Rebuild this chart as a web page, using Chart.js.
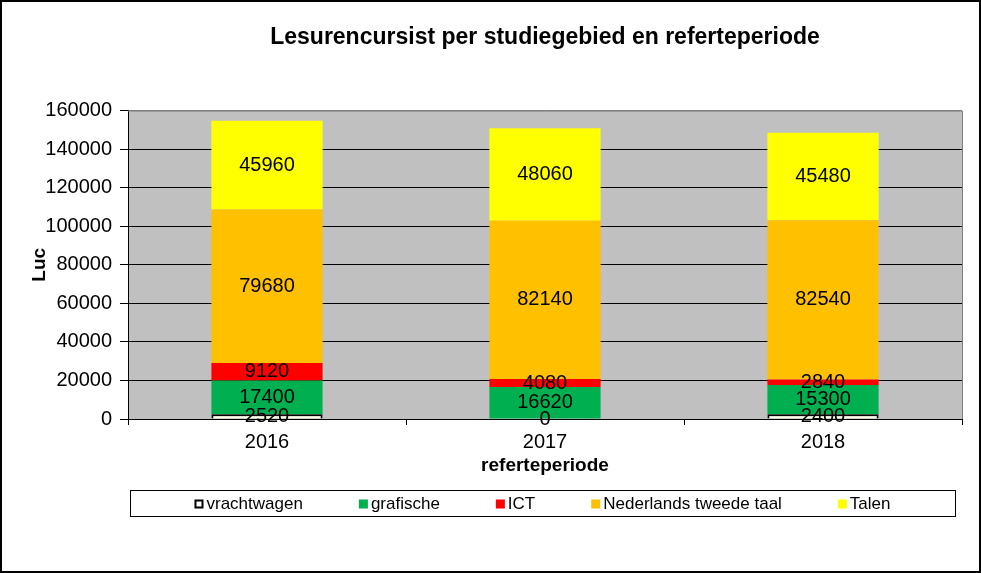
<!DOCTYPE html>
<html>
<head>
<meta charset="utf-8">
<script src="https://cdn.jsdelivr.net/npm/chart.js@4/dist/chart.umd.min.js"></script>
<style>
    html, body { margin: 0; padding: 0; background: #fff; }
</style>
</head>
<body>
<canvas id="chart" width="981" height="573"></canvas>
<script>
const years = ['2016', '2017', '2018'];
const vrachtwagen = [2520, 0, 2400];
const grafische = [17400, 16620, 15300];
const ict = [9120, 4080, 2840];
const nederlands = [79680, 82140, 82540];
const talen = [45960, 48060, 45480];
const yTickValues = [0, 20000, 40000, 60000, 80000, 100000, 120000, 140000, 160000];

const FONT = "'Liberation Sans', Arial, sans-serif";

// grey plot area, plot border and outer frame
const frame = {
    id: 'frame',
    beforeDraw(chart) {
        const { ctx, chartArea: a } = chart;
        ctx.save();
        ctx.fillStyle = '#fff';
        ctx.fillRect(0, 0, chart.width, chart.height);
        ctx.fillStyle = '#c0c0c0';
        ctx.fillRect(a.left, a.top, a.right - a.left, a.bottom - a.top);
        ctx.restore();
    },
    afterDraw(chart) {
        const { ctx, chartArea: a } = chart;
        ctx.save();
        ctx.strokeStyle = '#808080';
        ctx.lineWidth = 1;
        ctx.beginPath();
        ctx.moveTo(a.left, a.top + 0.5);
        ctx.lineTo(a.right + 0.5, a.top + 0.5);
        ctx.lineTo(a.right + 0.5, a.bottom);
        ctx.stroke();
        ctx.strokeStyle = '#000';
        ctx.lineWidth = 2;
        ctx.strokeRect(1, 1, chart.width - 2, chart.height - 2);
        ctx.restore();
    },
};

// value written in the middle of every stacked segment
const segmentLabels = {
    id: 'segmentLabels',
    afterDatasetsDraw(chart) {
        const ctx = chart.ctx;
        ctx.save();
        ctx.font = `20px ${FONT}`;
        ctx.fillStyle = '#000';
        ctx.textAlign = 'center';
        ctx.textBaseline = 'middle';
        chart.data.datasets.forEach((ds, i) => {
            chart.getDatasetMeta(i).data.forEach((bar, j) => {
                ctx.fillText(String(ds.data[j]), bar.x, (bar.y + bar.base) / 2);
            });
        });
        ctx.restore();
    },
};

// boxed legend below the axis title
const boxLegend = {
    id: 'boxLegend',
    afterDraw(chart) {
        const { ctx, chartArea: a } = chart;
        const top = a.bottom + 71;
        const h = 26;
        const left = a.left + 2;
        const right = a.right - 7;
        ctx.save();
        ctx.fillStyle = '#fff';
        ctx.fillRect(left, top, right - left, h);
        ctx.strokeStyle = '#000';
        ctx.lineWidth = 1;
        ctx.strokeRect(left + 0.5, top + 0.5, right - left, h);

        ctx.font = `17px ${FONT}`;
        ctx.textBaseline = 'middle';
        ctx.textAlign = 'left';
        const box = 9, gap = 3, spacing = 56;
        const items = chart.data.datasets.map((ds) => ({
            text: ds.label,
            fill: ds.legendFill || ds.backgroundColor,
            outlined: !!ds.legendFill,
            w: ctx.measureText(ds.label).width,
        }));
        const total = items.reduce((s, it) => s + box + gap + it.w, 0) + spacing * (items.length - 1);
        let x = (left + right) / 2 - total / 2;
        const cy = top + h / 2 + 1;
        items.forEach((it) => {
            ctx.fillStyle = it.fill;
            ctx.fillRect(x, cy - box / 2, box, box);
            if (it.outlined) {
                ctx.strokeStyle = '#000';
                ctx.lineWidth = 2;
                ctx.strokeRect(x + 1, cy - box / 2 + 1, box - 2, box - 2);
            }
            ctx.fillStyle = '#000';
            ctx.fillText(it.text, x + box + gap, cy);
            x += box + gap + it.w + spacing;
        });
        ctx.restore();
    },
};

new Chart(document.getElementById('chart'), {
    type: 'bar',
    data: {
        labels: years,
        datasets: [
            {
                label: 'vrachtwagen',
                data: vrachtwagen,
                backgroundColor: '#ffffe8',
                legendFill: '#fff',
                borderColor: '#000',
                borderWidth: (c) => (c.raw ? 2 : 0),
            },
            { label: 'grafische', data: grafische, backgroundColor: '#00b050' },
            { label: 'ICT', data: ict, backgroundColor: '#ff0000' },
            { label: 'Nederlands tweede taal', data: nederlands, backgroundColor: '#ffc000' },
            { label: 'Talen', data: talen, backgroundColor: '#ffff00' },
        ],
    },
    options: {
        responsive: false,
        animation: false,
        devicePixelRatio: 1,
        layout: { padding: { left: 0, right: 19, top: 0, bottom: 94 } },
        datasets: {
            bar: { categoryPercentage: 1, barPercentage: 0.4 },
        },
        plugins: {
            legend: { display: false },
            tooltip: { enabled: false },
            title: {
                display: true,
                fullSize: false,
                text: 'Lesurencursist per studiegebied en referteperiode',
                color: '#000',
                font: { family: FONT, size: 23, weight: 'bold' },
                padding: { top: 24, bottom: 59 },
            },
        },
        scales: {
            x: {
                stacked: true,
                ticks: { color: '#000', font: { family: FONT, size: 20 }, padding: 5 },
                grid: { offset: true, drawOnChartArea: false, tickLength: 6, color: '#000' },
                border: { color: '#000', width: 1 },
                title: {
                    display: true,
                    text: 'referteperiode',
                    color: '#000',
                    font: { family: FONT, size: 19, weight: 'bold' },
                    padding: { top: 3, bottom: 2 },
                },
                afterFit(scale) { scale.height = 60; },
            },
            y: {
                stacked: true,
                min: 0,
                max: 160000,
                afterBuildTicks(scale) {
                    scale.ticks = yTickValues.map((v) => ({ value: v }));
                },
                ticks: {
                    color: '#000',
                    font: { family: FONT, size: 20 },
                    padding: 8,
                    callback: (v) => String(v),
                },
                grid: {
                    color: (c) => (c.tick && c.tick.value === 160000 ? '#808080' : '#000'),
                    tickColor: '#000',
                    tickLength: 8,
                    lineWidth: 1,
                },
                border: { color: '#000', width: 1 },
                title: {
                    display: true,
                    text: 'Luc',
                    color: '#000',
                    font: { family: FONT, size: 19, weight: 'bold' },
                    padding: { top: 28, bottom: 0 },
                },
                afterFit(scale) { scale.width = 128; },
            },
        },
    },
    plugins: [frame, segmentLabels, boxLegend],
});
</script>
</body>
</html>
